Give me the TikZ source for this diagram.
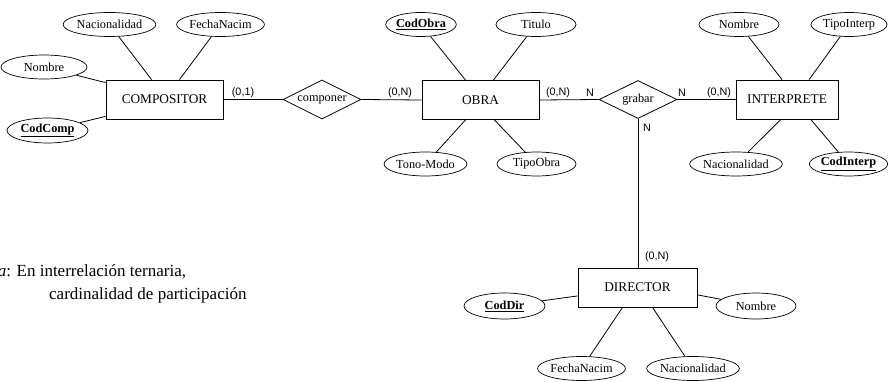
\documentclass[tikz,border=0pt]{standalone}
\usepackage{fontspec}
\setmainfont{Liberation Serif}
\newfontfamily\lblfont{Liberation Sans}
\usetikzlibrary{shapes.geometric}
\tikzset{
  ent/.style={draw, line width=0.8pt, rectangle, inner sep=0pt, minimum height=39pt,
    font=\fontsize{13.3}{15}\selectfont},
  attr/.style={draw, line width=0.7pt, ellipse, inner sep=0pt, minimum height=24pt,
    font=\fontsize{12.3}{14}\selectfont},
  rel/.style={draw, line width=0.8pt, diamond, aspect=2, inner sep=0pt,
    minimum width=78pt, minimum height=39pt, font=\fontsize{12.3}{14}\selectfont},
  card/.style={inner sep=0pt, font=\lblfont\fontsize{10.8}{12}\selectfont},
  conn/.style={line width=0.8pt},
}
\newcommand{\keyattr}[1]{\underline{\textbf{#1}}}
\begin{document}
\begin{tikzpicture}[x=1pt,y=-1pt]
\useasboundingbox (0,0) rectangle (888,382);
\clip (0,0) rectangle (888,382);

% entities
\node[ent, minimum width=117pt] (comp) at (164.5,99.5) {COMPOSITOR};
\node[ent, minimum width=117pt] (obra) at (480.5,100) {OBRA};
\node[ent, minimum width=102pt] (interp) at (787,99.5) {INTERPRETE};
\node[ent, minimum width=119pt] (dir) at (637.5,287.5) {DIRECTOR};

% relationships
\node[rel] (componer) at (322,99.5) {componer};
\node[rel, minimum height=38pt] (grabar) at (638,99.5) {grabar};

% attributes COMPOSITOR
\node[attr, minimum width=87pt] (nac1) at (109.5,24.5) {Nacionalidad};
\node[attr, minimum width=81pt] (fn1) at (220.5,24.5) {FechaNacim};
\node[attr, minimum width=86pt] (nom1) at (44,67) {Nombre};
\node[attr, minimum width=81pt, minimum height=25pt] (cc) at (47.5,130.5) {\keyattr{CodComp}};

% attributes OBRA
\node[attr, minimum width=70pt] (co) at (421,24.5) {\keyattr{CodObra}};
\node[attr, minimum width=80pt] (tit) at (536,24.5) {Titulo};
\node[attr, minimum width=81pt] (tm) at (425.5,164) {Tono-Modo};
\node[attr, minimum width=79pt] (tob) at (536.5,164) {TipoObra};

% attributes INTERPRETE
\node[attr, minimum width=80pt] (nom2) at (739,24.5) {Nombre};
\node[attr, minimum width=76pt] (ti) at (849,24.5) {TipoInterp};
\node[attr, minimum width=86pt] (nac2) at (736,164) {Nacionalidad};
\node[attr, minimum width=77pt] (ci) at (848.5,164) {\keyattr{CodInterp}};

% attributes DIRECTOR
\node[attr, minimum width=81pt, minimum height=26pt] (cd) at (504.5,306) {\keyattr{CodDir}};
\node[attr, minimum width=80pt, minimum height=26pt] (nom3) at (756,306) {Nombre};
\node[attr, minimum width=77pt] (fn3) at (581.5,368.5) {FechaNacim};
\node[attr, minimum width=88pt] (nac3) at (693,368.5) {Nacionalidad};

% attribute connectors
\draw[conn] (nac1) -- (comp.123);
\draw[conn] (fn1) -- (comp.53);
\draw[conn] (nom1) -- (comp.164);
\draw[conn] (cc) -- (comp.196);

\draw[conn] (co) -- (obra.127);
\draw[conn] (tit) -- (obra.57);
\draw[conn] (tm) -- (obra.233);
\draw[conn] (tob) -- (obra.305);

\draw[conn] (nom2) -- (interp.104);
\draw[conn] (ti) -- (interp.42);
\draw[conn] (nac2) -- (interp.253);
\draw[conn] (ci) -- (interp.320);

\draw[conn] (cd) -- (dir.188);
\draw[conn] (nom3) -- (dir.353);
\draw[conn] (fn3) -- (dir.233);
\draw[conn] (nac3) -- (dir.307);

% relationship connectors
\draw[conn] (comp.east) -- (componer.west);
\draw[conn] (componer.east) -- (obra.west);
\draw[conn] (obra.east) -- (grabar.west);
\draw[conn] (grabar.east) -- (interp.west);
\draw[conn] (grabar.south) -- (grabar.south |- dir.north);

% cardinalities
\node[card] (c1) at (243,93) {(0,1)};
\node[card] (c2) at (400,93) {(0,N)};
\node[card] (c3) at (558,93) {(0,N)};
\node[card] (c4) at (590,93) {N};
\node[card] (c5) at (682,93) {N};
\node[card] (c6) at (719,93) {(0,N)};
\node[card] (c7) at (647,128) {N};
\node[card] (c8) at (657,257) {(0,N)};

% note
\node[anchor=north west, inner sep=0pt, align=left, font=\fontsize{17}{23}\selectfont]
  (nota) at (-27,264.5) {\textit{Nota}: En interrelación ternaria,\\\hspace*{76pt}cardinalidad de participación};
\end{tikzpicture}
\end{document}
